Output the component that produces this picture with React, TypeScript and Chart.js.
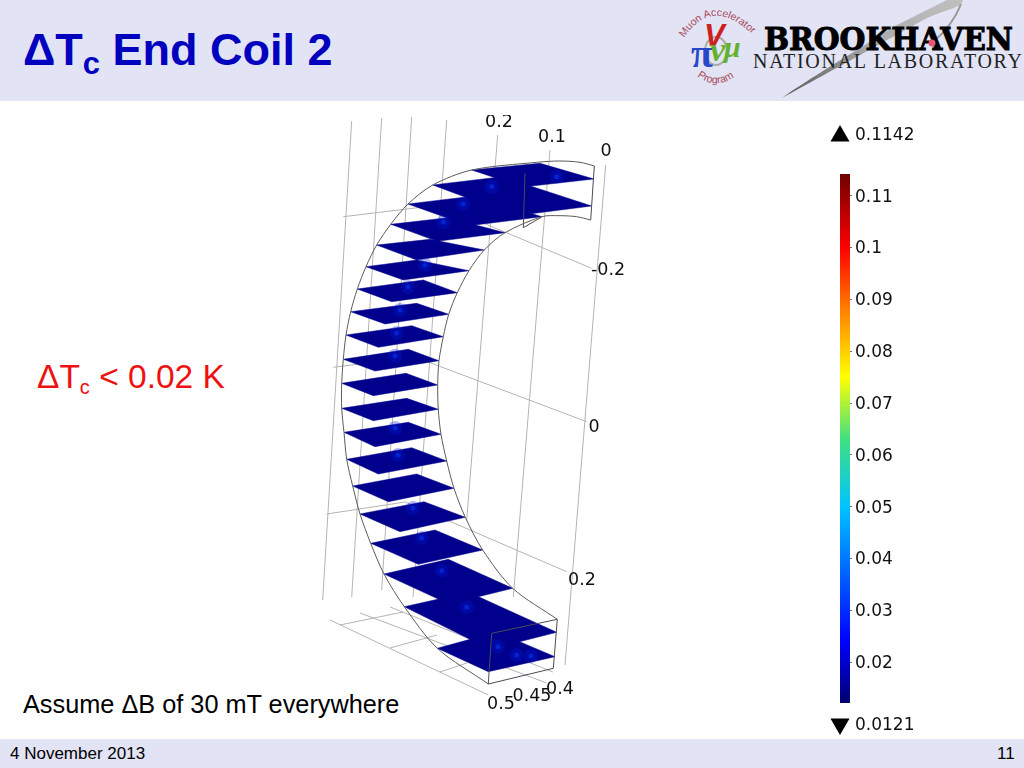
import React, { useEffect, useRef } from "react";
import { Chart, registerables } from "chart.js";

Chart.register(...registerables);

// Slices: left, top, right, bottom corners as x,y pairs
const slices: number[][] = [
  [471.7, 170, 540, 163.3, 594, 179, 522.7, 187],
  [432.7, 185, 502, 176.7, 591.7, 206, 515.3, 215.7],
  [408, 204, 476.7, 195.7, 541.7, 216.7, 469, 225.7],
  [390.7, 224.3, 448.3, 217.7, 505, 232.7, 437.3, 241.3],
  [376.7, 245, 430, 239.3, 484.3, 250, 416.7, 260],
  [366, 266.7, 416.7, 260, 469, 270.7, 403.3, 280],
  [357.3, 289, 423.3, 280, 457.3, 292.7, 391.7, 301.7],
  [350.7, 311.7, 416.7, 303.3, 448.7, 314.3, 385, 324],
  [346, 335, 411.7, 325.7, 443.3, 336.7, 378.3, 347.3],
  [343.3, 359.3, 408.3, 349.3, 439, 360.7, 375, 371],
  [341.7, 383.3, 406, 373.3, 437.7, 385, 373.3, 395.7],
  [341.7, 408.3, 406.7, 398.3, 438.3, 409.3, 373.3, 420.7],
  [344, 432.3, 408.3, 422.3, 441, 434.3, 375, 446.7],
  [346.7, 459.3, 411.7, 447.7, 446.7, 461, 378.3, 474],
  [352.7, 486, 416.7, 474, 454, 488.3, 388.3, 501.7],
  [360, 514, 424, 501.7, 465.3, 517.3, 400, 531.7],
  [370.7, 543.3, 435, 530, 482.7, 550, 418.3, 564.3],
  [384, 574, 448.3, 559.3, 512.7, 588.3, 449, 604],
  [404.3, 606.7, 468.7, 592.3, 556.7, 632.3, 490, 649.3],
  [437.3, 648.3, 496.7, 632, 555, 656.7, 488.3, 671.7],
];

const hotSpotX = [556.7, 491.7, 463.3, 443.3, 425, 408, 400, 396.7, 395, 395, 398, 413, 421.7, 441.7, 466.7, 531, 498, 516.7];
const hotSpotY = [176.7, 186.7, 204, 222, 265, 287, 310, 333, 355.7, 428, 455, 508, 538, 570.7, 607.3, 656, 646.7, 655];

const outerArc = [594.3, 166, 580, 162.3, 560, 161, 536.7, 162.3, 471.7, 170, 432.7, 185, 408, 204, 390.7, 224.3, 376.7, 245, 366, 266.7, 357.3, 289, 350.7, 311.7, 346, 335, 343.3, 359.3, 341.7, 383.3, 341.7, 408.3, 344, 432.3, 346.7, 459.3, 352.7, 486, 360, 514, 370.7, 543.3, 384, 574, 404.3, 606.7, 437.3, 648.3, 488.3, 684];
const innerArc = [590.7, 220, 576.7, 216.7, 560, 215.7, 541.7, 216.7, 505, 232.7, 484.3, 250, 469, 270.7, 457.3, 292.7, 448.7, 314.3, 443.3, 336.7, 439, 360.7, 437.7, 385, 438.3, 409.3, 441, 434.3, 446.7, 461, 454, 488.3, 465.3, 517.3, 482.7, 550, 512.7, 588.3, 557.3, 619.3];
const endEdges: number[][] = [
  [594.3, 166, 590.7, 220],
  [525, 173.3, 523.3, 227.7, 541.7, 217],
  [488.3, 684, 491.7, 633.3, 557.3, 619.3, 553.3, 668.3, 488.3, 684],
];
const gridLines: number[][] = [
  [351.7, 121, 322.7, 600],
  [381.7, 118, 351.7, 597],
  [411.7, 117, 381.7, 590],
  [446.7, 120, 413, 597],
  [497.7, 135, 466.7, 520],
  [550, 150, 513.3, 597],
  [605.7, 165, 565, 665],
  [343.3, 216.7, 440, 205, 591.7, 268.3],
  [333.3, 367.3, 415, 357, 586.7, 421.7],
  [326.7, 514, 405, 502, 566.7, 571.7],
  [330, 620, 488.3, 695],
  [360, 613, 546.7, 683],
  [390, 607, 553, 672],
  [340, 625, 403, 612],
  [390, 648, 437, 635],
  [440, 672, 467, 663],
];

// Axis tick labels of the 3D box and the two colour-range labels
const axisLabels = ["0.2", "0.1", "0", "-0.2", "0", "0.2", "0.4", "0.45", "0.5"];
const axisLabelX = [499, 552, 606, 608, 594, 582, 560, 532, 501];
const axisLabelY = [122, 137, 151, 270, 427, 580, 689, 696, 704];
const rangeLabels = ["0.1142", "0.0121"];
const rangeLabelY = [136, 726];

// Colour scale
const colorMin = 0.0121;
const colorMax = 0.1142;
const colorTicks = [0.02, 0.03, 0.04, 0.05, 0.06, 0.07, 0.08, 0.09, 0.1, 0.11];
const colorStopValues = [0.0121, 0.024, 0.05, 0.063, 0.075, 0.088, 0.1, 0.1142];
const colorStopCss = ["#00006f", "#0000ff", "#00c4ff", "#40e080", "#ffff00", "#ff8000", "#ff0000", "#6f0000"];

const toPoints = (flat: number[]) => {
  const pts: { x: number; y: number }[] = [];
  for (let i = 0; i < flat.length; i += 2) pts.push({ x: flat[i], y: flat[i + 1] });
  return pts;
};

const labelPlugin = {
  id: "boxLabels",
  afterDatasetsDraw(chart: any) {
    const { ctx, scales } = chart;
    ctx.save();
    ctx.beginPath();
    ctx.rect(0, 115, 1024, 653);
    ctx.clip();
    ctx.fillStyle = "#111";
    ctx.font = '17.5px "DejaVu Sans"';
    ctx.textAlign = "center";
    ctx.textBaseline = "middle";
    axisLabels.forEach((t, i) => ctx.fillText(t, scales.x.getPixelForValue(axisLabelX[i]), scales.y.getPixelForValue(axisLabelY[i])));
    ctx.textAlign = "left";
    ctx.font = '17px "DejaVu Sans"';
    rangeLabels.forEach((t, i) => ctx.fillText(t, scales.x.getPixelForValue(855), scales.y.getPixelForValue(rangeLabelY[i])));
    ctx.restore();
  },
};

export default function App() {
  const plotRef = useRef<HTMLCanvasElement>(null);
  const barRef = useRef<HTMLCanvasElement>(null);

  useEffect(() => {
    const line = (flat: number[], color: string, tension = 0) => ({
      data: toPoints(flat),
      showLine: true,
      pointRadius: 0,
      borderColor: color,
      borderWidth: 1,
      tension,
      fill: false,
    });
    const hot = (radius: number, color: string) => ({
      data: hotSpotX.map((x, i) => ({ x, y: hotSpotY[i] })),
      showLine: false,
      pointRadius: radius,
      pointBorderWidth: 0,
      pointBackgroundColor: color,
    });
    const datasets: any[] = [
      {
        data: [{ x: 840, y: 136 }],
        pointStyle: "triangle",
        pointRadius: 11,
        pointBackgroundColor: "#000",
        pointBorderWidth: 0,
      },
      {
        data: [{ x: 840, y: 724 }],
        pointStyle: "triangle",
        rotation: 180,
        pointRadius: 11,
        pointBackgroundColor: "#000",
        pointBorderWidth: 0,
      },
      line(outerArc, "#5a5a5a", 0.3),
      line(innerArc, "#5a5a5a", 0.3),
      ...endEdges.map((e) => line(e, "#4a4a5a")),
      hot(2.5, "rgba(0,60,255,0.5)"),
      hot(7, "rgba(0,25,220,0.3)"),
      ...slices.map((s) => ({
        data: toPoints([...s, s[0], s[1]]),
        showLine: true,
        pointRadius: 0,
        borderColor: "#00008c",
        borderWidth: 0.5,
        backgroundColor: "#00008c",
        fill: "shape",
      })),
      ...gridLines.map((g) => line(g, "#b4b4b4")),
    ];
    const plot = new Chart(plotRef.current!, {
      type: "scatter",
      data: { datasets },
      plugins: [labelPlugin],
      options: {
        responsive: false,
        animation: false,
        layout: { padding: 0, autoPadding: false },
        plugins: { legend: { display: false }, tooltip: { enabled: false } },
        scales: {
          x: { type: "linear", min: 0, max: 1024, display: false },
          y: { type: "linear", min: 0, max: 768, reverse: true, display: false },
        },
      },
    } as any);

    const bar = new Chart(barRef.current!, {
      type: "bar",
      data: {
        labels: ["ΔTc"],
        datasets: [
          {
            data: [[colorMin, colorMax]],
            barPercentage: 1,
            categoryPercentage: 1,
            backgroundColor: (c: any) => {
              const a = c.chart.chartArea;
              if (!a) return "#00f";
              const g = c.chart.ctx.createLinearGradient(0, a.bottom, 0, a.top);
              colorStopValues.forEach((v, i) => g.addColorStop((v - colorMin) / (colorMax - colorMin), colorStopCss[i]));
              return g;
            },
          },
        ],
      },
      options: {
        responsive: false,
        animation: false,
        layout: { padding: { top: 20, bottom: 21, left: 0, right: 0 }, autoPadding: false },
        plugins: { legend: { display: false }, tooltip: { enabled: false } },
        scales: {
          x: { display: false },
          y: {
            position: "right",
            min: colorMin,
            max: colorMax,
            afterBuildTicks: (s: any) => {
              s.ticks = colorTicks.map((value) => ({ value }));
            },
            afterFit: (s: any) => {
              s.width = 70;
            },
            border: { display: false },
            grid: { drawOnChartArea: false, drawTicks: true, tickLength: 2, color: "rgba(0,0,0,0.55)" },
            ticks: {
              padding: 3,
              labelOffset: 1.5,
              color: "#111",
              font: { family: '"DejaVu Sans"', size: 17 },
              autoSkip: false,
              callback: (v: any) => String(v),
            },
          },
        },
      },
    } as any);

    return () => {
      plot.destroy();
      bar.destroy();
    };
  }, []);

  const sans = '"Liberation Sans", Arial, sans-serif';
  const abs = (o: React.CSSProperties): React.CSSProperties => ({ position: "absolute", whiteSpace: "nowrap", ...o });

  return (
    <div style={{ position: "fixed", left: 0, top: 0, width: 1024, height: 768, overflow: "hidden", background: "#fff", fontFamily: sans }}>
      <div style={abs({ left: 0, top: 0, width: 1024, height: 101, background: "#e2e4f5" })} />
      <div style={abs({ left: 0, top: 739, width: 1024, height: 29, background: "#e2e4f5" })} />
      <div style={abs({ left: 23, top: 24, fontSize: 45, fontWeight: 700, color: "#0000bf", lineHeight: "52px" })}>
        ΔT<sub style={{ fontSize: 31, verticalAlign: "-9px", lineHeight: 0 }}>c</sub> End Coil 2
      </div>
      <div style={abs({ left: 37, top: 357, fontSize: 33.5, color: "#ee1111", lineHeight: "40px" })}>
        ΔT<sub style={{ fontSize: 20, verticalAlign: "-6px", lineHeight: 0 }}>c</sub> &lt; 0.02 K
      </div>
      <div style={abs({ left: 23, top: 689, fontSize: 25.3, color: "#000", lineHeight: "30px" })}>Assume ΔB of 30 mT everywhere</div>
      <div style={abs({ left: 10, top: 745, fontSize: 17, color: "#000", lineHeight: "18px" })}>4 November 2013</div>
      <div style={abs({ left: 997, top: 745, fontSize: 17, color: "#000", lineHeight: "18px" })}>11</div>

      <svg width={1024} height={101} style={abs({ left: 0, top: 0 })}>
        <defs>
          <linearGradient id="sw" x1="782" y1="98" x2="960" y2="0" gradientUnits="userSpaceOnUse">
            <stop offset="0" stopColor="#555" />
            <stop offset="0.5" stopColor="#aaa" />
            <stop offset="1" stopColor="#c0c0c0" />
          </linearGradient>
          <path id="mapTop" d="M684,38 Q714,-8 760,42" fill="none" />
          <path id="mapBottom" d="M697,76 Q716,91 737,75" fill="none" />
        </defs>
        <path d="M782,98 C810,78 850,55 893,27 L947,0 L963,0 C962,8 947,9 927,18 C905,30 830,72 782,98 Z" fill="url(#sw)" />
        <path d="M961,4 C955,20 945,32 932,43" fill="none" stroke="#999" strokeWidth={2} />
        <text fontFamily='"DejaVu Serif"' fontWeight={700} fontSize={31} x={764} y={50} textLength={249} lengthAdjust="spacingAndGlyphs" fill="#000" stroke="#000" strokeWidth={1}>
          BROOKHAVEN
        </text>
        <text fontFamily='"Liberation Serif"' fontSize={20} x={753} y={68} textLength={269} fill="#222">
          NATIONAL LABORATORY
        </text>
        <circle cx={932} cy={43} r={3.5} fill="#e85570" />
        <text fontFamily={sans} fontSize={10.5} fill="#a84858">
          <textPath href="#mapTop">Muon Accelerator</textPath>
        </text>
        <text fontFamily={sans} fontSize={10.5} fill="#a84858">
          <textPath href="#mapBottom">Program</textPath>
        </text>
        <ellipse cx={716} cy={51} rx={11} ry={14} fill="none" stroke="#aaa" strokeWidth={2} />
        <text fontFamily='"Liberation Serif"' fontWeight={700} fontSize={40} x={691} y={67} fill="#2848c8">π</text>
        <text fontFamily={sans} fontWeight={700} fontStyle="italic" fontSize={31} x={704} y={46} fill="#cc2020">V</text>
        <text fontFamily='"Liberation Serif"' fontWeight={700} fontStyle="italic" fontSize={34} x={710} y={61} fill="#66b030">ν</text>
        <text fontFamily='"Liberation Serif"' fontWeight={700} fontStyle="italic" fontSize={30} x={724} y={57} fill="#66b030">μ</text>
      </svg>

      <canvas ref={plotRef} width={1024} height={768} style={abs({ left: 0, top: 0, width: 1024, height: 768 })} />
      <canvas ref={barRef} width={80} height={570} style={abs({ left: 840, top: 154, width: 80, height: 570 })} />
    </div>
  );
}
